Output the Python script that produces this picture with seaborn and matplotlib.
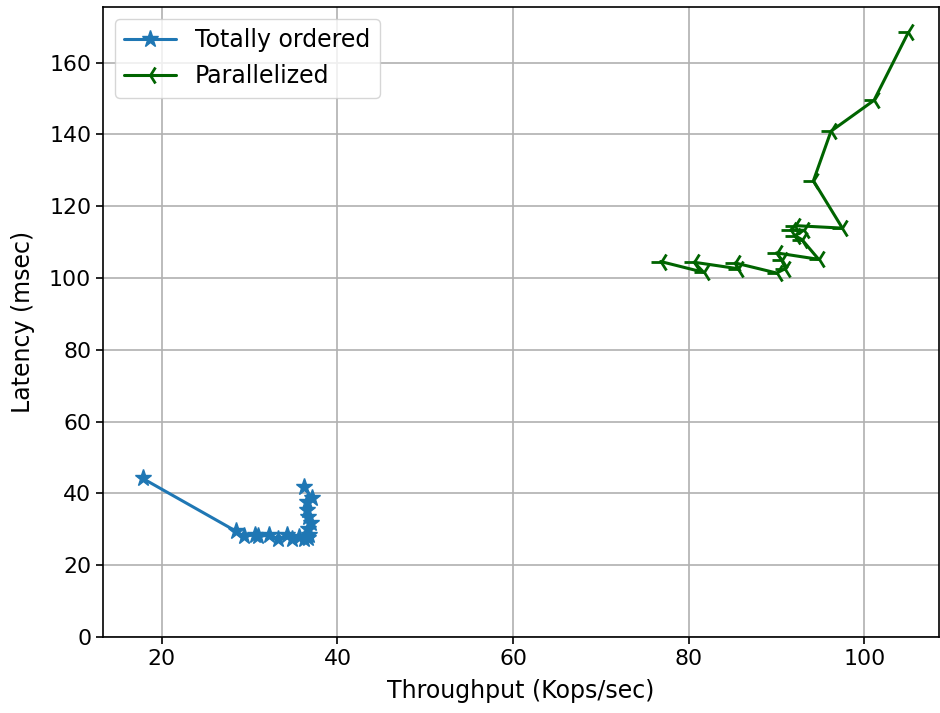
import matplotlib
matplotlib.use("Agg")
import matplotlib.pyplot as plt
import seaborn as sns
import pandas as pd

# Data
total_x = [17.8, 28.5, 29.3, 30.6, 31.0, 32.2, 33.2, 34.3, 34.8, 35.6, 36.2, 36.6,
           36.8, 36.6, 37.0, 36.7, 36.5, 36.5, 37.1, 36.2]
total_y = [44.2, 29.4, 28.0, 28.5, 28.0, 28.4, 27.2, 28.3, 27.3, 27.8, 27.2, 27.5,
           28.4, 30.2, 31.8, 33.5, 35.5, 37.5, 38.7, 41.9]

par_x = [76.8, 81.7, 80.6, 85.6, 85.3, 90.0, 91.0, 90.6, 90.0, 94.8, 92.9, 92.1,
         93.1, 91.6, 92.1, 97.5, 94.2, 96.2, 101.1, 105.0]
par_y = [104.6, 101.6, 104.4, 102.6, 104.2, 101.4, 102.6, 105.0, 107.0, 105.2, 110.7, 111.8,
         113.3, 113.3, 114.6, 113.9, 127.1, 140.9, 149.5, 168.4]

labels = ["Totally ordered", "Parallelized"]
xlabel = "Throughput (Kops/sec)"
ylabel = "Latency (msec)"

sns.set_style("ticks")
plt.rcParams["font.family"] = ["DejaVu Sans"]
plt.rcParams["text.color"] = "black"
plt.rcParams["axes.labelcolor"] = "black"
plt.rcParams["xtick.color"] = "black"
plt.rcParams["ytick.color"] = "black"

fig = plt.figure(figsize=(9.4, 7.13), dpi=100)
ax = fig.add_axes([103 / 940, 1 - 637 / 713, (939 - 103) / 940, (637 - 7) / 713])

df1 = pd.DataFrame({"x": total_x, "y": total_y})
df2 = pd.DataFrame({"x": par_x, "y": par_y})

sns.lineplot(data=df1, x="x", y="y", sort=False, estimator=None, ax=ax,
             color="#1f77b4", marker="*", markersize=12.5, markeredgecolor="#1f77b4",
             markeredgewidth=1.0, linewidth=2.2, label=labels[0])
sns.lineplot(data=df2, x="x", y="y", sort=False, estimator=None, ax=ax,
             color="darkgreen", marker="3", markersize=14, markeredgecolor="darkgreen",
             markeredgewidth=2.0, linewidth=2.2, label=labels[1])

ax.set_xlim(13.3, 108.5)
ax.set_ylim(0, 175.5)
ax.set_xticks([20, 40, 60, 80, 100])
ax.set_yticks([0, 20, 40, 60, 80, 100, 120, 140, 160])
ax.grid(True, color="#b0b0b0", linewidth=1.2)
ax.set_axisbelow(True)
for s in ax.spines.values():
    s.set_linewidth(1.2)
    s.set_color("black")
ax.tick_params(direction="out", length=5, width=1.2, labelsize=15.8, colors="black")
ax.set_xlabel(xlabel, fontsize=17, color="black", labelpad=7)
ax.set_ylabel(ylabel, fontsize=17, color="black", labelpad=10)
leg = ax.legend(loc="upper left", fontsize=17, framealpha=0.8, fancybox=True,
                handlelength=2.2)
for t in leg.get_texts():
    t.set_color("black")

fig.savefig("out.png", dpi=100)
